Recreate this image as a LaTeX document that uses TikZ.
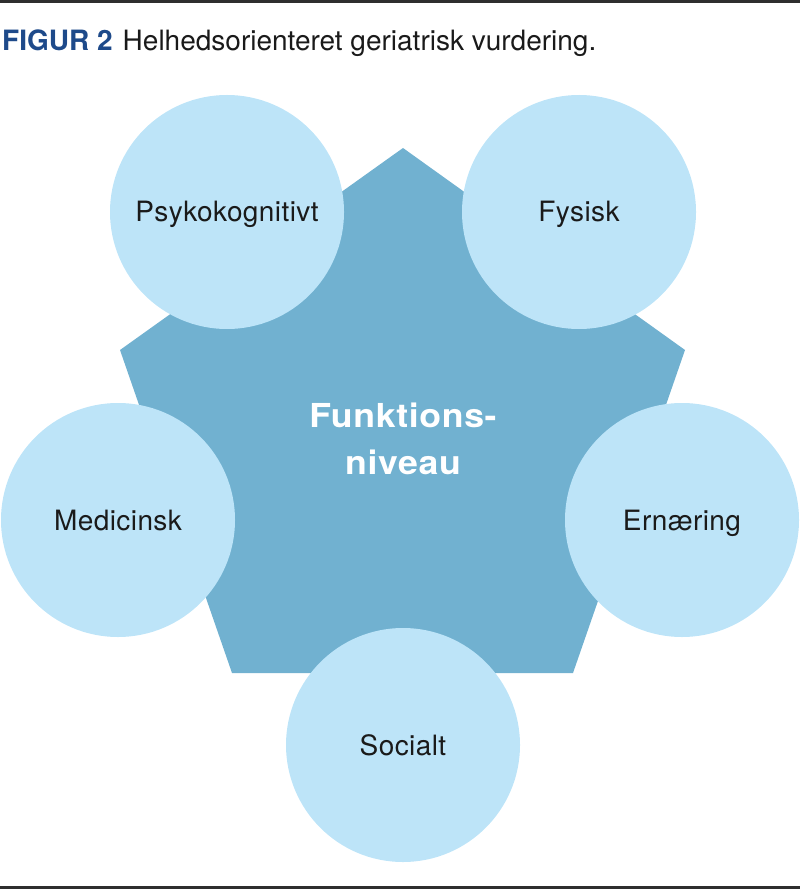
\documentclass[tikz,border=0pt]{standalone}
\usepackage{fontspec}
\setmainfont{TeX Gyre Heros}
\newfontfamily\labelfont[LetterSpace=1.5]{TeX Gyre Heros}
\newfontfamily\centerfont[FakeStretch=1.08, LetterSpace=2]{TeX Gyre Heros}
\usetikzlibrary{positioning}
\definecolor{pentablue}{HTML}{71B1D0}
\definecolor{circblue}{HTML}{BDE4F8}
\definecolor{titleblue}{HTML}{1E4A8A}
\definecolor{textdark}{HTML}{1A1A1A}
\definecolor{rulegray}{HTML}{2E2E2E}
\tikzset{
  area/.style={circle, fill=circblue, draw=none, minimum size=234pt, inner sep=0pt,
    text=textdark, font=\labelfont\fontsize{28}{30}\selectfont, text height=20pt, text depth=0pt},
  centertext/.style={text=white, font=\centerfont\fontsize{33}{47}\selectfont\bfseries, align=center, inner sep=0pt},
  rulebar/.style={line width=3pt, draw=rulegray}
}
\begin{document}
\begin{tikzpicture}[x=1pt,y=-1pt]
\useasboundingbox (0,0) rectangle (800,890);
% rules
\coordinate (tl) at (0,1.5); \coordinate (tr) at (800,1.5);
\coordinate (bl) at (0,887.5); \coordinate (br) at (800,887.5);
\draw[rulebar] (tl) -- (tr);
\draw[rulebar] (bl) -- (br);
% title
\node[anchor=base west, inner sep=0pt, font=\fontsize{28}{30}\selectfont, text=textdark] (title) at (2,51)
  {\textcolor{titleblue}{\bfseries FIGUR 2}\hspace{0.36em}Helhedsorienteret geriatrisk vurdering.};
% pentagon
\coordinate (pt) at (403,148);
\coordinate (pr) at (685,350);
\coordinate (pbr) at (573,673);
\coordinate (pbl) at (232,673);
\coordinate (pl) at (120,350);
\fill[pentablue] (pt) -- (pr) -- (pbr) -- (pbl) -- (pl) -- cycle;
\node[centertext] (center) at (403,439) {Funktions-\\niveau};
% circles
\node[area] (psyk) at (227,212) {Psykokognitivt};
\node[area] (fys) at (579,212) {Fysisk};
\node[area] (med) at (118,520) {Medicinsk};
\node[area] (ern) at (682,520) {Ernæring};
\node[area] (soc) at (403,745) {Socialt};
\end{tikzpicture}
\end{document}
